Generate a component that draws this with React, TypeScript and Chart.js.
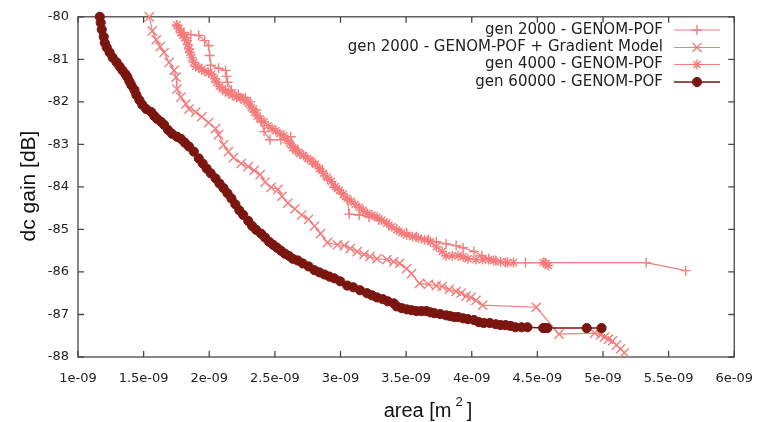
import React, { useEffect, useRef } from 'react';
import { Chart, registerables } from 'chart.js';
import { drawPoint } from 'chart.js/helpers';

Chart.register(...registerables);

// x values are area in units of 1e-9 m^2, y values are dc gain in dB
const xTickValues = [1, 1.5, 2, 2.5, 3, 3.5, 4, 4.5, 5, 5.5, 6];
const xTickLabels = ['1e-09', '1.5e-09', '2e-09', '2.5e-09', '3e-09', '3.5e-09', '4e-09', '4.5e-09', '5e-09', '5.5e-09', '6e-09'];
const yTickValues = [-80, -81, -82, -83, -84, -85, -86, -87, -88];
const yTickLabels = ['-80', '-81', '-82', '-83', '-84', '-85', '-86', '-87', '-88'];

const seriesNames = [
  'gen 2000 - GENOM-POF',
  'gen 2000 - GENOM-POF + Gradient Model',
  'gen 4000 - GENOM-POF',
  'gen 60000 - GENOM-POF',
];

const gen2000: [number, number][] = [
  [1.754, -80.21], [1.807, -80.37], [1.860, -80.42], [1.920, -80.44], [1.965, -80.56], [1.995, -80.68],
  [2.003, -80.91], [2.011, -81.14], [2.071, -81.21], [2.124, -81.26], [2.131, -81.40], [2.139, -81.54],
  [2.169, -81.72], [2.222, -81.82], [2.275, -81.91], [2.312, -82.00], [2.357, -82.19], [2.395, -82.47],
  [2.418, -82.70], [2.463, -82.89], [2.546, -82.89], [2.621, -82.82], [2.644, -83.05], [2.674, -83.12],
  [2.734, -83.29], [2.787, -83.40], [2.825, -83.52], [2.863, -83.64], [2.900, -83.82], [2.953, -84.01],
  [3.006, -84.15], [3.051, -84.29], [3.066, -84.64], [3.142, -84.66], [3.217, -84.71], [3.293, -84.78],
  [3.368, -84.90], [3.428, -84.99], [3.504, -85.08], [3.579, -85.17], [3.670, -85.24], [3.730, -85.29],
  [3.805, -85.34], [3.881, -85.38], [3.934, -85.43], [4.017, -85.52], [4.077, -85.62], [4.130, -85.69],
  [4.183, -85.73], [4.258, -85.78], [4.409, -85.78], [4.559, -85.78], [5.329, -85.78], [5.630, -85.97],
];

const gen2000Gradient: [number, number][] = [
  [1.543, -80.00], [1.566, -80.33], [1.596, -80.54], [1.626, -80.70], [1.656, -80.84], [1.694, -81.07],
  [1.732, -81.26], [1.747, -81.42], [1.754, -81.70], [1.784, -81.89], [1.822, -82.05], [1.845, -82.17],
  [1.897, -82.24], [1.943, -82.35], [1.995, -82.49], [2.048, -82.63], [2.071, -82.77], [2.109, -83.01],
  [2.146, -83.17], [2.184, -83.31], [2.244, -83.45], [2.297, -83.52], [2.342, -83.61], [2.388, -83.71],
  [2.425, -83.89], [2.471, -84.01], [2.523, -84.06], [2.554, -84.22], [2.599, -84.38], [2.652, -84.52],
  [2.704, -84.66], [2.757, -84.76], [2.802, -84.92], [2.848, -85.10], [2.900, -85.31], [2.976, -85.36],
  [3.029, -85.38], [3.074, -85.45], [3.127, -85.52], [3.180, -85.59], [3.225, -85.64], [3.278, -85.69],
  [3.353, -85.71], [3.406, -85.76], [3.451, -85.80], [3.504, -85.92], [3.541, -86.04], [3.602, -86.27],
  [3.670, -86.29], [3.730, -86.32], [3.775, -86.34], [3.828, -86.41], [3.881, -86.46], [3.919, -86.50],
  [3.956, -86.57], [3.994, -86.60], [4.032, -86.67], [4.084, -86.78], [4.492, -86.83], [4.665, -87.46],
  [4.937, -87.44], [4.982, -87.48], [5.012, -87.53], [5.042, -87.58], [5.072, -87.62], [5.103, -87.72],
  [5.133, -87.81], [5.163, -87.90],
];

const gen4000: [number, number][] = [
  [1.754, -80.19], [1.769, -80.28], [1.784, -80.37], [1.799, -80.44], [1.814, -80.49], [1.830, -80.56],
  [1.837, -80.65], [1.845, -80.75], [1.852, -80.84], [1.867, -80.96], [1.882, -81.07], [1.897, -81.17],
  [1.920, -81.19], [1.943, -81.24], [1.965, -81.28], [1.995, -81.31], [2.018, -81.35], [2.041, -81.45],
  [2.056, -81.54], [2.078, -81.63], [2.101, -81.70], [2.124, -81.75], [2.146, -81.79], [2.176, -81.84],
  [2.207, -81.89], [2.237, -81.91], [2.267, -81.96], [2.297, -82.03], [2.320, -82.14], [2.342, -82.24],
  [2.365, -82.33], [2.388, -82.40], [2.418, -82.47], [2.448, -82.56], [2.478, -82.63], [2.508, -82.68],
  [2.538, -82.75], [2.569, -82.80], [2.591, -82.89], [2.614, -82.98], [2.636, -83.08], [2.659, -83.15],
  [2.689, -83.22], [2.719, -83.26], [2.750, -83.33], [2.780, -83.40], [2.810, -83.47], [2.840, -83.57],
  [2.870, -83.68], [2.900, -83.78], [2.931, -83.87], [2.961, -83.99], [2.991, -84.08], [3.021, -84.17],
  [3.051, -84.27], [3.081, -84.34], [3.112, -84.41], [3.142, -84.48], [3.172, -84.55], [3.202, -84.62],
  [3.240, -84.66], [3.278, -84.71], [3.315, -84.78], [3.353, -84.85], [3.391, -84.94], [3.428, -85.01],
  [3.466, -85.08], [3.504, -85.13], [3.549, -85.17], [3.594, -85.20], [3.640, -85.24], [3.685, -85.29],
  [3.730, -85.41], [3.775, -85.52], [3.805, -85.62], [3.851, -85.62], [3.896, -85.62], [3.934, -85.64],
  [3.971, -85.69], [4.032, -85.71], [4.084, -85.71], [4.130, -85.71], [4.167, -85.73], [4.220, -85.76],
  [4.273, -85.78], [4.318, -85.78], [4.544, -85.78], [4.567, -85.80], [4.582, -85.85],
];

const gen60000: [number, number][] = [
  [1.166, -80.00], [1.173, -80.14], [1.181, -80.30], [1.196, -80.47], [1.204, -80.61], [1.219, -80.72],
  [1.241, -80.84], [1.264, -80.96], [1.294, -81.07], [1.317, -81.17], [1.339, -81.26], [1.362, -81.35],
  [1.377, -81.42], [1.392, -81.52], [1.407, -81.61], [1.430, -81.72], [1.445, -81.84], [1.468, -81.96],
  [1.490, -82.07], [1.520, -82.17], [1.558, -82.24], [1.581, -82.33], [1.603, -82.40], [1.633, -82.47],
  [1.656, -82.54], [1.686, -82.66], [1.716, -82.75], [1.754, -82.82], [1.784, -82.87], [1.814, -82.96],
  [1.845, -83.05], [1.882, -83.17], [1.920, -83.33], [1.950, -83.45], [1.980, -83.57], [2.011, -83.68],
  [2.048, -83.80], [2.078, -83.92], [2.109, -84.03], [2.139, -84.15], [2.169, -84.27], [2.199, -84.41],
  [2.229, -84.55], [2.259, -84.66], [2.297, -84.80], [2.327, -84.92], [2.357, -85.01], [2.395, -85.10],
  [2.425, -85.19], [2.456, -85.29], [2.486, -85.36], [2.516, -85.43], [2.546, -85.50], [2.576, -85.57],
  [2.606, -85.62], [2.636, -85.69], [2.674, -85.73], [2.712, -85.80], [2.757, -85.87], [2.802, -85.96],
  [2.840, -86.01], [2.878, -86.06], [2.916, -86.11], [2.953, -86.15], [2.998, -86.22], [3.051, -86.32],
  [3.097, -86.36], [3.149, -86.43], [3.202, -86.50], [3.240, -86.55], [3.278, -86.60], [3.323, -86.64],
  [3.360, -86.69], [3.406, -86.74], [3.428, -86.81], [3.466, -86.85], [3.504, -86.88], [3.541, -86.90],
  [3.579, -86.92], [3.617, -86.92], [3.655, -86.92], [3.685, -86.95], [3.715, -86.97], [3.760, -86.99],
  [3.805, -87.02], [3.836, -87.04], [3.866, -87.06], [3.896, -87.06], [3.934, -87.09], [3.971, -87.11],
  [4.017, -87.13], [4.054, -87.18], [4.092, -87.20], [4.137, -87.20], [4.183, -87.23], [4.220, -87.25],
  [4.258, -87.25], [4.296, -87.27], [4.333, -87.30], [4.379, -87.30], [4.424, -87.30], [4.544, -87.32],
  [4.559, -87.32], [4.575, -87.32], [4.876, -87.32], [4.989, -87.32],
];

const LIGHT = '#f47c7c';
const DARK = '#7a1510';
const TICK_FONT = { family: 'DejaVu Sans', size: 13 };

const toPoints = (arr: [number, number][]) => arr.map(([x, y]) => ({ x, y }));

const labelFor = (values: number[], labels: string[], v: number) => {
  const i = values.findIndex((t) => Math.abs(t - v) < 1e-6);
  return i >= 0 ? labels[i] : '';
};

const framePlugin = {
  id: 'gnuFrame',
  beforeDatasetsDraw(chart: any) {
    const { ctx, chartArea: a, scales } = chart;
    ctx.save();
    ctx.strokeStyle = '#474747';
    ctx.lineWidth = 1.3;
    ctx.strokeRect(a.left, a.top, a.right - a.left, a.bottom - a.top);
    const t = 6;
    ctx.beginPath();
    for (const v of xTickValues) {
      const x = scales.x.getPixelForValue(v);
      ctx.moveTo(x, a.bottom);
      ctx.lineTo(x, a.bottom - t);
      ctx.moveTo(x, a.top);
      ctx.lineTo(x, a.top + t);
    }
    for (const v of yTickValues) {
      const y = scales.y.getPixelForValue(v);
      ctx.moveTo(a.left, y);
      ctx.lineTo(a.left + t, y);
      ctx.moveTo(a.right, y);
      ctx.lineTo(a.right - t, y);
    }
    ctx.stroke();
    ctx.restore();
  },
  afterDraw(chart: any) {
    const { ctx } = chart;
    ctx.save();
    // axis titles
    ctx.fillStyle = '#111';
    ctx.font = '21px "Liberation Sans"';
    ctx.textBaseline = 'middle';
    ctx.textAlign = 'center';
    ctx.save();
    ctx.translate(29, 186);
    ctx.rotate(-Math.PI / 2);
    ctx.fillText('dc gain [dB]', 0, 0);
    ctx.restore();

    const main = 'area [m';
    const sup = '2';
    const close = ']';
    ctx.textAlign = 'left';
    ctx.textBaseline = 'alphabetic';
    ctx.font = '20px "Liberation Sans"';
    const wMain = ctx.measureText(main).width;
    const wClose = ctx.measureText(close).width;
    ctx.font = '13px "Liberation Sans"';
    const wSup = ctx.measureText(sup).width;
    const total = wMain + 4 + wSup + 4 + wClose;
    let x = 428 - total / 2;
    const base = 417;
    ctx.font = '20px "Liberation Sans"';
    ctx.fillText(main, x, base);
    x += wMain + 4;
    ctx.font = '13px "Liberation Sans"';
    ctx.fillText(sup, x, base - 11);
    x += wSup + 4;
    ctx.font = '20px "Liberation Sans"';
    ctx.fillText(close, x, base);

    // legend
    const rows = [30, 47.5, 64.5, 82];
    const textRight = 663;
    const lineL = 674;
    const lineR = 720;
    ctx.font = '15px "DejaVu Sans"';
    ctx.textAlign = 'right';
    ctx.textBaseline = 'middle';
    chart.data.datasets.forEach((ds: any, i: number) => {
      const y = rows[i];
      ctx.fillStyle = '#222';
      ctx.fillText(ds.label, textRight, y);
      ctx.strokeStyle = ds.borderColor;
      ctx.lineWidth = ds.borderWidth;
      ctx.beginPath();
      ctx.moveTo(lineL, y);
      ctx.lineTo(lineR, y);
      ctx.stroke();
      ctx.fillStyle = ds.pointBackgroundColor;
      ctx.strokeStyle = ds.pointBorderColor;
      ctx.lineWidth = ds.pointBorderWidth;
      drawPoint(ctx, { pointStyle: ds.pointStyle, radius: ds.pointRadius, rotation: 0, borderWidth: ds.pointBorderWidth }, (lineL + lineR) / 2, y);
    });
    ctx.restore();
  },
};

export default function App() {
  const ref = useRef<HTMLCanvasElement | null>(null);

  useEffect(() => {
    if (!ref.current) return;
    const light = (label: string, data: [number, number][], style: string, radius: number, order: number) => ({
      label,
      data: toPoints(data),
      showLine: true,
      borderColor: LIGHT,
      backgroundColor: LIGHT,
      borderWidth: 1.2,
      pointStyle: style,
      pointRadius: radius,
      pointBorderColor: LIGHT,
      pointBackgroundColor: LIGHT,
      pointBorderWidth: 1.4,
      clip: false,
      order,
    });
    const chart = new Chart(ref.current, {
      type: 'scatter',
      data: {
        datasets: [
          light(seriesNames[0], gen2000, 'cross', 5, 3),
          light(seriesNames[1], gen2000Gradient, 'crossRot', 6.5, 2),
          light(seriesNames[2], gen4000, 'star', 5, 1),
          {
            label: seriesNames[3],
            data: toPoints(gen60000),
            showLine: true,
            borderColor: DARK,
            backgroundColor: DARK,
            borderWidth: 1.5,
            pointStyle: 'circle',
            pointRadius: 4.6,
            pointBorderColor: DARK,
            pointBackgroundColor: DARK,
            pointBorderWidth: 1,
            clip: false,
            order: 0,
          },
        ],
      },
      options: {
        animation: false,
        responsive: false,
        devicePixelRatio: 1,
        layout: { padding: { top: 14, right: 26, left: 0, bottom: 0 } },
        plugins: { legend: { display: false }, tooltip: { enabled: false } },
        scales: {
          x: {
            type: 'linear',
            min: 1,
            max: 6,
            afterBuildTicks: (s: any) => {
              s.ticks = xTickValues.map((v) => ({ value: v }));
            },
            afterFit: (s: any) => {
              s.height = 65;
            },
            grid: { display: false, drawTicks: false },
            border: { display: false },
            ticks: {
              padding: 14,
              autoSkip: false,
              maxRotation: 0,
              color: '#222',
              font: TICK_FONT,
              callback: (v: any) => labelFor(xTickValues, xTickLabels, Number(v)),
            },
          },
          y: {
            type: 'linear',
            min: -88,
            max: -80,
            afterBuildTicks: (s: any) => {
              s.ticks = yTickValues.map((v) => ({ value: v }));
            },
            afterFit: (s: any) => {
              s.width = 78;
            },
            grid: { display: false, drawTicks: false },
            border: { display: false },
            ticks: {
              padding: 9,
              autoSkip: false,
              color: '#222',
              font: TICK_FONT,
              callback: (v: any) => labelFor(yTickValues, yTickLabels, Number(v)),
            },
          },
        },
      },
      plugins: [framePlugin],
    } as any);
    return () => chart.destroy();
  }, []);

  return (
    <div style={{ position: 'fixed', left: 0, top: 0, width: 767, height: 422, background: '#fff' }}>
      <canvas ref={ref} width={767} height={422} style={{ display: 'block' }} />
    </div>
  );
}
